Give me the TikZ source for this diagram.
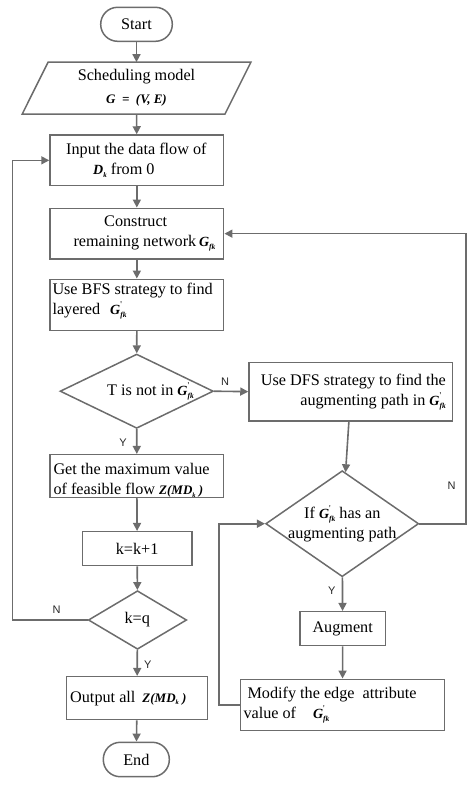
\documentclass[tikz,border=0pt]{standalone}
\usepackage{fontspec}
\setmainfont{Liberation Serif}
\newfontfamily\labelfont{Liberation Sans}
\usetikzlibrary{shapes.geometric,arrows.meta}
\definecolor{lc}{RGB}{108,108,108}
\newcommand\BI[2]{{\fontsize{#1}{#1}\selectfont\bfseries\itshape #2}}
\newcommand\Gfk{\BI{14}{G}\raisebox{-3pt}{\BI{7.5}{fk}}}
\newcommand\Gpfk{\BI{14}{G}\rlap{\raisebox{7pt}{\fontsize{9}{9}\selectfont\textquotesingle}}\raisebox{-3pt}{\BI{7.5}{fk}}}
\newcommand\Dk{\BI{14}{D}\raisebox{-3pt}{\BI{7}{k}}}
\newcommand\ZMD{\BI{13}{Z(MD}\raisebox{-2.5pt}{\BI{6.5}{k}}\BI{13}{\ )}}
\begin{document}
\begin{tikzpicture}[x=1pt,y=-1pt,
  every node/.style={font=\fontsize{16.2}{20}\selectfont, inner sep=0pt},
  shapebox/.style={draw=lc, line width=1.5pt, rectangle},
  term/.style={draw=lc, line width=1.5pt, rectangle, rounded corners=16.9pt},
  dia/.style={draw=lc, line width=1.5pt, diamond},
  txtl/.style={anchor=west, align=left},
  txtr/.style={anchor=east, align=right},
  conn/.style={draw=lc, line width=1.6pt, -{Triangle[length=8pt,width=8pt]}},
  yn/.style={font=\labelfont\fontsize{11}{11}\selectfont, text=black!85}]
\useasboundingbox (0,0) rectangle (474,786);

% shapes
\node[term, minimum width=71.6pt, minimum height=34pt] (start) at (136.5,24.3) {Start};
\node[minimum width=202.4pt, minimum height=51.7pt, align=center, font=\fontsize{16.2}{23}\selectfont] (model) at (136.5,88.2) {Scheduling model\\ \BI{13}{G \ = \ (V, E)}};
\draw[lc, line width=1.5pt, line join=miter] ([xshift=13pt]model.north west) -- ([xshift=13pt]model.north east) -- ([xshift=-13pt]model.south east) -- ([xshift=-13pt]model.south west) -- cycle;
\node[shapebox, minimum width=173.7pt, minimum height=50.7pt] (input) at (136.85,160.35) {};
\node[shapebox, minimum width=173.7pt, minimum height=50.7pt] (construct) at (136.85,233.65) {};
\node[shapebox, minimum width=173.7pt, minimum height=51pt] (bfs) at (136.85,304.8) {};
\node[dia, minimum width=153.3pt, minimum height=74.3pt] (tdia) at (136.7,391.2) {};
\node[shapebox, minimum width=203.7pt, minimum height=58.7pt] (dfs) at (350.85,391.65) {};
\node[shapebox, minimum width=173.7pt, minimum height=42.6pt] (getmax) at (136.85,476) {};
\node[shapebox, minimum width=109.7pt, minimum height=34pt] (kk1) at (137.15,548.7) {k=k+1};
\node[dia, minimum width=98.4pt, minimum height=58.6pt] (kq) at (137.5,620) {};
\node[shapebox, minimum width=140.6pt, minimum height=43pt] (output) at (137,698.2) {};
\node[term, minimum width=66pt, minimum height=34.4pt] (endn) at (136.3,759.5) {End};
\node[dia, minimum width=153pt, minimum height=106pt] (ifdia) at (342.2,523.7) {};
\node[shapebox, minimum width=85.3pt, minimum height=34pt] (augment) at (342.65,628.7) {Augment};
\node[shapebox, minimum width=203.6pt, minimum height=51.4pt] (modify) at (342.5,705) {};

% texts
\node[txtl] (inputtxt) at (66,160.7) {Input the data flow of\\ \hspace*{27pt}\Dk\ from 0};
\node[txtl] (constxt) at (73.3,233.2) {\hspace*{30.7pt}Construct\\ remaining network\,\Gfk};
\node[txtl] (bfstxt) at (52.3,301.5) {Use BFS strategy to find\\ layered\hspace{10pt}\Gpfk};
\node (ttxt) at (150.5,391.7) {T is not in \Gpfk};
\node[txtr] (dfstxt) at (446,391.8) {Use DFS strategy to find the\\ augmenting path in \Gpfk};
\node[txtl] (getmaxtxt) at (53.3,480.4) {Get the maximum value\\ of feasible flow \ZMD};
\node (kqtxt) at (137.3,620) {k=q};
\node[txtl] (outtxt) at (70,698.3) {Output all\hspace{7pt}\ZMD};
\node[align=center] (iftxt) at (342.3,524) {If \Gpfk\ has an\\ augmenting path};
\node[txtl] (modtxt) at (243.3,705.4) {\hspace*{4pt}Modify the edge~ attribute\\ value of\hspace{17pt}\Gpfk};

\coordinate (lx) at (12.3,620);
\coordinate (rx) at (465.7,523.7);
\coordinate (mx) at (219,705);

\draw[conn] (start) -- (model);
\draw[conn] (model) -- (input);
\draw[conn] (input) -- (construct);
\draw[conn] (construct) -- (bfs);
\draw[conn] (bfs) -- (tdia);
\draw[conn] (tdia.east) -- (dfs.west);
\draw[conn] (tdia) -- (getmax);
\draw[conn] (dfs) -- (ifdia);
\draw[conn] (getmax) -- (kk1);
\draw[conn] (kk1) -- (kq);
\draw[conn] (kq) -- (output);
\draw[conn] (output) -- (endn);
\draw[conn] (ifdia) -- (augment);
\draw[conn] (augment) -- (modify);
\draw[conn] (kq.west) -- (lx) |- (input.west);
\draw[conn] (ifdia.east) -- (rx) |- (construct.east);
\draw[conn] (modify.west) -- (mx) |- (ifdia.west);

\node[yn] (nT) at (225,382) {N};
\node[yn] (yT) at (123,443) {Y};
\node[yn] (nkq) at (56.7,610) {N};
\node[yn] (ykq) at (147.7,665) {Y};
\node[yn] (nif) at (451.7,486) {N};
\node[yn] (yif) at (331.7,590.7) {Y};
\end{tikzpicture}
\end{document}
